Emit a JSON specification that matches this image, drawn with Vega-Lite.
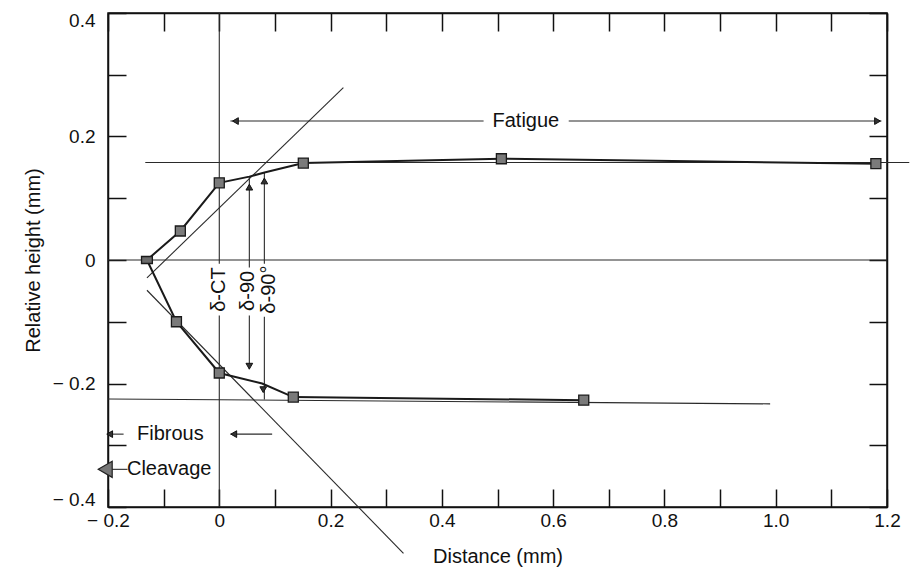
{
  "$schema": "https://vega.github.io/schema/vega-lite/v6.json",
  "width": 779,
  "height": 494,
  "autosize": {"type": "none"},
  "padding": {"left": 108, "top": 13, "right": 25, "bottom": 60},
  "background": "white",
  "config": {
    "font": "Liberation Sans",
    "view": {"stroke": "#111", "strokeWidth": 1.5},
    "axis": {
      "grid": false,
      "domainColor": "#111",
      "domainWidth": 1.5,
      "tickColor": "#111",
      "tickWidth": 1.5,
      "labelColor": "#111",
      "titleColor": "#111",
      "labelFont": "Liberation Sans",
      "titleFont": "Liberation Sans",
      "labelFontSize": 19,
      "titleFontSize": 20,
      "titleFontWeight": "normal",
      "labelFlush": false,
      "labelOverlap": false
    }
  },
  "datasets": {
    "refs": [
      {"name": "zero", "x1": -0.2, "y1": 0, "x2": 1.2, "y2": 0},
      {"name": "x0 upper", "x1": 0, "y1": 0.4, "x2": 0, "y2": -0.006},
      {"name": "x0 lower", "x1": 0, "y1": -0.09, "x2": 0, "y2": -0.4},
      {"name": "d90 upper", "x1": 0.054, "y1": 0.135, "x2": 0.054, "y2": -0.012},
      {"name": "d90 lower", "x1": 0.054, "y1": -0.09, "x2": 0.054, "y2": -0.177},
      {"name": "d90deg upper", "x1": 0.081, "y1": 0.142, "x2": 0.081, "y2": -0.006},
      {"name": "d90deg lower", "x1": 0.081, "y1": -0.092, "x2": 0.081, "y2": -0.226},
      {"name": "upper ref", "x1": -0.133, "y1": 0.158, "x2": 1.24, "y2": 0.158},
      {"name": "lower ref", "x1": -0.2, "y1": -0.225, "x2": 0.99, "y2": -0.233},
      {"name": "tangent upper", "x1": -0.13, "y1": -0.029, "x2": 0.223, "y2": 0.279},
      {"name": "tangent lower", "x1": -0.13, "y1": -0.049, "x2": 0.331, "y2": -0.475},
      {"name": "fatigue left", "x1": 0.02, "y1": 0.225, "x2": 0.475, "y2": 0.225},
      {"name": "fatigue right", "x1": 0.628, "y1": 0.225, "x2": 1.19, "y2": 0.225},
      {"name": "fibrous right", "x1": 0.02, "y1": -0.282, "x2": 0.095, "y2": -0.282},
      {"name": "fibrous left", "x1": -0.2, "y1": -0.282, "x2": -0.172, "y2": -0.282},
      {"name": "cleavage link", "x1": -0.2, "y1": -0.339, "x2": -0.165, "y2": -0.339}
    ],
    "series": [
      {"series": "upper", "x": -0.13, "y": 0},
      {"series": "upper", "x": -0.07, "y": 0.047},
      {"series": "upper", "x": 0.0, "y": 0.125},
      {"series": "upper", "x": 0.054, "y": 0.135},
      {"series": "upper", "x": 0.083, "y": 0.142},
      {"series": "upper", "x": 0.151, "y": 0.157},
      {"series": "upper", "x": 0.507, "y": 0.164},
      {"series": "upper", "x": 1.18, "y": 0.156},
      {"series": "lower", "x": -0.13, "y": 0},
      {"series": "lower", "x": -0.077, "y": -0.1},
      {"series": "lower", "x": 0.0, "y": -0.183},
      {"series": "lower", "x": 0.077, "y": -0.2},
      {"series": "lower", "x": 0.133, "y": -0.222},
      {"series": "lower", "x": 0.655, "y": -0.227}
    ],
    "squares": [
      {"x": -0.07, "y": 0.047},
      {"x": 0.0, "y": 0.125},
      {"x": 0.151, "y": 0.157},
      {"x": 0.507, "y": 0.164},
      {"x": 1.18, "y": 0.156},
      {"x": -0.077, "y": -0.1},
      {"x": 0.0, "y": -0.183},
      {"x": 0.133, "y": -0.222},
      {"x": 0.655, "y": -0.227}
    ],
    "bigsquares": [
      {"x": -0.13, "y": 0}
    ],
    "arrows": [
      {"x": 0.029, "y": 0.225, "dir": "left"},
      {"x": 1.183, "y": 0.225, "dir": "right"},
      {"x": 0.054, "y": 0.118, "dir": "up"},
      {"x": 0.081, "y": 0.128, "dir": "up"},
      {"x": 0.054, "y": -0.172, "dir": "down"},
      {"x": 0.079, "y": -0.21, "dir": "down"},
      {"x": 0.026, "y": -0.282, "dir": "left"},
      {"x": -0.197, "y": -0.282, "dir": "left"}
    ],
    "cleavage": [
      {"x": -0.205, "y": -0.339}
    ],
    "labels": [
      {"label": "Fatigue", "x": 0.551, "y": 0.225},
      {"label": "Fibrous", "x": -0.088, "y": -0.282},
      {"label": "Cleavage", "x": -0.09, "y": -0.339}
    ],
    "vlabels": [
      {"label": "δ-CT", "x": 0.0, "y": -0.048},
      {"label": "δ-90", "x": 0.052, "y": -0.05},
      {"label": "δ-90°", "x": 0.089, "y": -0.048}
    ]
  },
  "resolve": {"axis": {"x": "independent", "y": "independent"}},
  "layer": [
    {
      "data": {"name": "refs"},
      "mark": {"type": "rule", "color": "#2a2a2a", "strokeWidth": 1.1, "clip": false},
      "encoding": {
        "x": {
          "field": "x1", "type": "quantitative",
          "scale": {"domain": [-0.2, 1.2], "nice": false, "zero": false},
          "axis": {
            "orient": "bottom",
            "values": [-0.2, -0.1, 0, 0.1, 0.2, 0.3, 0.4, 0.5, 0.6, 0.7, 0.8, 0.9, 1.0, 1.1, 1.2],
            "tickSize": -18,
            "labelPadding": 22,
            "labelExpr": "abs(round(datum.value*10)) % 2 == 1 ? '' : (abs(datum.value) < 1e-9 ? '0' : (datum.value < 0 ? '\u2212 ' + format(-datum.value, '.1f') : format(datum.value, '.1f')))",
            "title": "Distance (mm)",
            "titlePadding": 16
          }
        },
        "x2": {"field": "x2"},
        "y": {
          "field": "y1", "type": "quantitative",
          "scale": {"domain": [-0.4, 0.4], "nice": false, "zero": false},
          "axis": {
            "orient": "left",
            "values": [-0.4, -0.3, -0.2, -0.1, 0, 0.1, 0.2, 0.3, 0.4],
            "tickSize": -18,
            "labelPadding": 31,
            "labelFlush": true,
            "labelFlushOffset": 2,
            "labelExpr": "abs(round(datum.value*10)) % 2 == 1 ? '' : (abs(datum.value) < 1e-9 ? '0' : (datum.value < 0 ? '\u2212 ' + format(-datum.value, '.1f') : format(datum.value, '.1f')))",
            "title": "Relative height (mm)",
            "titlePadding": 9
          }
        },
        "y2": {"field": "y2"}
      }
    },
    {
      "data": {"name": "series"},
      "mark": {"type": "line", "color": "#1a1a1a", "strokeWidth": 2, "clip": false},
      "encoding": {
        "x": {
          "field": "x", "type": "quantitative",
          "scale": {"domain": [-0.2, 1.2], "nice": false, "zero": false},
          "axis": {
            "orient": "top",
            "values": [-0.2, -0.1, 0, 0.1, 0.2, 0.3, 0.4, 0.5, 0.6, 0.7, 0.8, 0.9, 1.0, 1.1, 1.2],
            "tickSize": -18,
            "labels": false,
            "title": null
          }
        },
        "y": {
          "field": "y", "type": "quantitative",
          "scale": {"domain": [-0.4, 0.4], "nice": false, "zero": false},
          "axis": {
            "orient": "right",
            "values": [-0.4, -0.3, -0.2, -0.1, 0, 0.1, 0.2, 0.3, 0.4],
            "tickSize": -18,
            "labels": false,
            "title": null
          }
        },
        "detail": {"field": "series", "type": "nominal"}
      }
    },
    {
      "data": {"name": "squares"},
      "mark": {"type": "point", "shape": "square", "filled": true, "fill": "#7a7a7a", "stroke": "#1a1a1a", "strokeWidth": 1.3, "size": 100, "opacity": 1},
      "encoding": {
        "x": {"field": "x", "type": "quantitative", "scale": {"domain": [-0.2, 1.2], "nice": false, "zero": false}, "axis": null},
        "y": {"field": "y", "type": "quantitative", "scale": {"domain": [-0.4, 0.4], "nice": false, "zero": false}, "axis": null}
      }
    },
    {
      "data": {"name": "bigsquares"},
      "mark": {"type": "point", "shape": "M-1.4,-0.9L1.4,-0.9L1.4,0.9L-1.4,0.9Z", "filled": true, "fill": "#6a6a6a", "stroke": "#1a1a1a", "strokeWidth": 1.3, "size": 60, "opacity": 1},
      "encoding": {
        "x": {"field": "x", "type": "quantitative", "scale": {"domain": [-0.2, 1.2], "nice": false, "zero": false}, "axis": null},
        "y": {"field": "y", "type": "quantitative", "scale": {"domain": [-0.4, 0.4], "nice": false, "zero": false}, "axis": null}
      }
    },
    {
      "data": {"name": "arrows"},
      "mark": {"type": "point", "filled": true, "fill": "#333", "stroke": "#111", "strokeWidth": 1, "size": 45, "opacity": 1, "clip": false},
      "encoding": {
        "x": {"field": "x", "type": "quantitative", "scale": {"domain": [-0.2, 1.2], "nice": false, "zero": false}, "axis": null},
        "y": {"field": "y", "type": "quantitative", "scale": {"domain": [-0.4, 0.4], "nice": false, "zero": false}, "axis": null},
        "shape": {
          "field": "dir", "type": "nominal", "legend": null,
          "scale": {"domain": ["left", "right", "up", "down"], "range": ["triangle-left", "triangle-right", "triangle-up", "triangle-down"]}
        }
      }
    },
    {
      "data": {"name": "cleavage"},
      "mark": {"type": "point", "shape": "triangle-left", "filled": true, "fill": "#777", "stroke": "#222", "strokeWidth": 1.2, "size": 260, "opacity": 1, "clip": false},
      "encoding": {
        "x": {"field": "x", "type": "quantitative", "scale": {"domain": [-0.2, 1.2], "nice": false, "zero": false}, "axis": null},
        "y": {"field": "y", "type": "quantitative", "scale": {"domain": [-0.4, 0.4], "nice": false, "zero": false}, "axis": null}
      }
    },
    {
      "data": {"name": "labels"},
      "mark": {"type": "text", "font": "Liberation Sans", "fontSize": 20, "color": "#111", "align": "center", "baseline": "middle"},
      "encoding": {
        "x": {"field": "x", "type": "quantitative", "scale": {"domain": [-0.2, 1.2], "nice": false, "zero": false}, "axis": null},
        "y": {"field": "y", "type": "quantitative", "scale": {"domain": [-0.4, 0.4], "nice": false, "zero": false}, "axis": null},
        "text": {"field": "label"}
      }
    },
    {
      "data": {"name": "vlabels"},
      "mark": {"type": "text", "font": "Liberation Sans", "fontSize": 20, "color": "#111", "align": "center", "baseline": "middle", "angle": 270},
      "encoding": {
        "x": {"field": "x", "type": "quantitative", "scale": {"domain": [-0.2, 1.2], "nice": false, "zero": false}, "axis": null},
        "y": {"field": "y", "type": "quantitative", "scale": {"domain": [-0.4, 0.4], "nice": false, "zero": false}, "axis": null},
        "text": {"field": "label"}
      }
    }
  ]
}
